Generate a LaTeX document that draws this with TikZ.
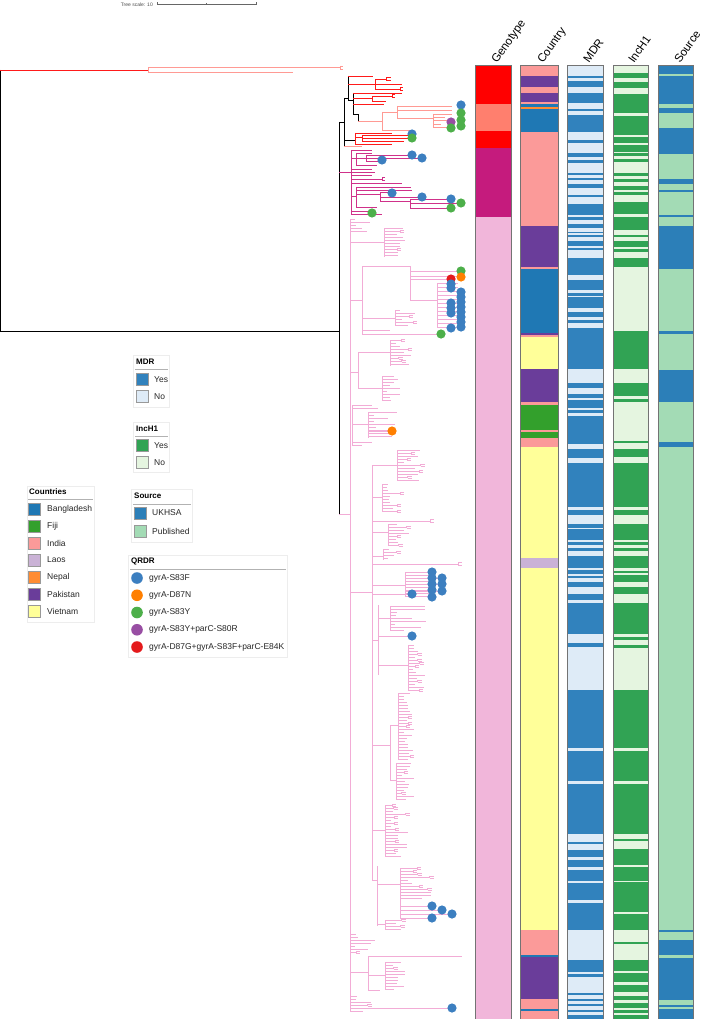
\documentclass[tikz,border=0pt]{standalone}
\usepackage{fontspec}
\setmainfont{Liberation Sans}

\definecolor{treered}{HTML}{FF1A1A}
\definecolor{treesalmon}{HTML}{FF9A94}
\definecolor{treemag}{HTML}{D0318A}
\definecolor{treepink}{HTML}{F2ACD6}
\definecolor{gtred}{HTML}{FF0000}
\definecolor{gtsalmon}{HTML}{FF7F6E}
\definecolor{gtmag}{HTML}{C51B7D}
\definecolor{gtpink}{HTML}{F1B6DA}
\definecolor{cbangla}{HTML}{1F78B4}
\definecolor{cfiji}{HTML}{33A02C}
\definecolor{cindia}{HTML}{FB9A99}
\definecolor{claos}{HTML}{CAB2D6}
\definecolor{cnepal}{HTML}{FF8C33}
\definecolor{cpak}{HTML}{6A3D9A}
\definecolor{cviet}{HTML}{FFFF99}
\definecolor{mdryes}{HTML}{3182BD}
\definecolor{mdrno}{HTML}{DEEBF7}
\definecolor{incyes}{HTML}{31A354}
\definecolor{incno}{HTML}{E5F5E0}
\definecolor{srcuk}{HTML}{2C7FB8}
\definecolor{srcpub}{HTML}{A3DBB5}
\definecolor{qblue}{HTML}{3C7FC0}
\definecolor{qorange}{HTML}{FF7F00}
\definecolor{qgreen}{HTML}{4DAF4A}
\definecolor{qpurple}{HTML}{984EA3}
\definecolor{qred}{HTML}{E41A1C}

\tikzset{
  br/.style={line width=0.6pt},
  blkbr/.style={br, draw=black},
  redbr/.style={br, draw=treered},
  salbr/.style={br, draw=treesalmon},
  magbr/.style={br, draw=treemag},
  pinkbr/.style={br, draw=treepink},
  stripframe/.style={draw=black!55, line width=0.6pt},
  striplabel/.style={font=\fontsize{11.5}{13}\selectfont, rotate=55, anchor=base west, inner sep=0pt},
  legbox/.style={draw=black!7, fill=white, line width=0.5pt},
  legrule/.style={draw=black!30, line width=0.8pt},
  legtitle/.style={font=\bfseries\fontsize{8}{10}\selectfont, anchor=west, inner sep=0pt},
  legtext/.style={font=\fontsize{8.5}{10}\selectfont, anchor=west, inner sep=0pt, text=black!85},
  swatch/.style={draw=black!40, line width=0.4pt, minimum size=12pt, inner sep=0pt}
}

% comb of leaves hanging off one node
\newcommand\comb[5]{%
  \draw[#1] (#2,#3) -- (#2,#4);
  \pgfmathsetmacro\combnext{#3+3}%
  \foreach \yy in {#3,\combnext,...,#4}{%
    \pgfmathsetmacro\xend{#2+5+#5*rnd}%
    \draw[#1] (#2,\yy) -- (\xend,\yy);
    \pgfmathtruncatemacro\haspair{rnd<0.3}%
    \ifnum\haspair=1
      \draw[#1] (\xend,\yy-1) -- (\xend,\yy+1) (\xend,\yy-1) -- ++(4,0) (\xend,\yy+1) -- ++(4,0);
    \fi
  }%
}
\newcommand\cherry[4]{\draw[#1] (#2,#3-1.5) -- (#2,#3+1.5) (#2,#3-1.5) -- ++(#4,0) (#2,#3+1.5) -- ++(#4,0);}
\newcommand\qd[3]{\fill[#1] (#2,#3) circle[radius=4.6pt];}

\begin{document}
\begin{tikzpicture}[x=1pt,y=-1pt]
\pgfmathsetseed{23}
\useasboundingbox (0,0) rectangle (706,1019);

% tree scale
\node[font=\fontsize{5}{6}\selectfont, anchor=east, inner sep=0pt, text=black!70] (scaletxt) at (153,4.5) {Tree scale: 10};
\coordinate (scaleL) at (157,4);
\coordinate (scaleR) at (256,4);
\draw[black!60, line width=0.4pt] (scaleL) -- (scaleR);
\draw[black!60, line width=0.4pt] (157,2.5) -- (157,5.5) (206,3) -- (206,5) (256,2.5) -- (256,5.5);

% root and outgroup
\draw[blkbr] (0,70) -- (0,331);
\draw[redbr] (0,70) -- (148,70);
\draw[salbr] (148,67.5) -- (148,72);
\draw[salbr] (148,67.5) -- (340,67.5);
\draw[salbr] (148,72) -- (293,72);
\cherry{salbr}{340}{67.5}{3}
\draw[blkbr] (0,331) -- (339,331);
\draw[blkbr] (339,122) -- (339,514);

% top red cluster
\draw[blkbr] (339,122) -- (344,122);
\draw[blkbr] (344,98) -- (344,146);
\draw[blkbr] (344,98) -- (348,98);
\draw[blkbr] (348,76) -- (348,100);
\draw[redbr] (348,76) -- (373,76);
\draw[redbr] (348,84) -- (402,84);
\draw[redbr] (375,79) -- (375,89);
\draw[redbr] (375,79) -- (386,79);
\cherry{redbr}{386}{79}{5}
\draw[redbr] (375,89) -- (400,89);
\cherry{redbr}{400}{89}{3}
\draw[blkbr] (348,100) -- (353,100);
\draw[blkbr] (353,93) -- (353,114);
\draw[redbr] (353,93) -- (402,93);
\draw[redbr] (353,98) -- (372,98);
\draw[redbr] (372,96) -- (372,101);
\draw[redbr] (372,96) -- (392,96);
\cherry{redbr}{392}{96}{3}
\draw[redbr] (372,101) -- (386,101);
\draw[redbr] (353,104) -- (384,104);
\draw[blkbr] (353,114) -- (358,114) -- (358,121);

% salmon clade
\draw[salbr] (358,121) -- (382,121);
\draw[salbr] (382,112) -- (382,130);
\draw[salbr] (382,112) -- (397,112);
\draw[salbr] (397,106) -- (397,118);
\draw[salbr] (397,106) -- (452,106);
\draw[salbr] (397,110) -- (452,110);
\draw[salbr] (397,118) -- (433,118);
\draw[salbr] (433,114) -- (433,127);
\foreach \yy/\xx in {114/452,117/445,120/452,124/441,127/450}
  {\draw[salbr] (433,\yy) -- (\xx,\yy);}
\draw[salbr] (382,130) -- (412,130);

% second red group
\draw[blkbr] (344,140) -- (355,140);
\draw[redbr] (355,133) -- (355,144);
\draw[redbr] (355,133) -- (392,133);
\draw[redbr] (355,137) -- (362,137);
\draw[redbr] (362,135) -- (362,141);
\draw[redbr] (362,135) -- (410,135);
\draw[redbr] (362,138) -- (410,138);
\draw[redbr] (362,141) -- (404,141);
\draw[redbr] (355,144) -- (392,144);
\draw[salbr] (344,146) -- (362,146);

% magenta clade
\draw[magbr] (339,172) -- (351,172);
\draw[magbr] (351,150) -- (351,214);
\draw[magbr] (351,150) -- (372,150);
\draw[magbr] (351,158) -- (356,158);
\draw[magbr] (356,153) -- (356,165);
\draw[magbr] (356,153) -- (372,153);
\draw[magbr] (356,158) -- (366,158);
\draw[magbr] (366,155) -- (366,161);
\draw[magbr] (366,155) -- (412,155);
\draw[magbr] (366,158) -- (422,158);
\draw[magbr] (366,161) -- (382,161);
\draw[magbr] (356,165) -- (377,165);
\foreach \yy/\xx in {169/372,172/375,175/372,179/382,183/402}
  {\draw[magbr] (351,\yy) -- (\xx,\yy);}
\cherry{magbr}{382}{179}{3}
\draw[magbr] (351,196) -- (356,196);
\draw[magbr] (356,187) -- (356,207);
\draw[magbr] (356,187) -- (411,187);
\draw[magbr] (356,190) -- (412,190);
\draw[magbr] (356,194) -- (380,194);
\draw[magbr] (380,192) -- (380,201);
\draw[magbr] (380,192) -- (392,192);
\draw[magbr] (380,197) -- (422,197);
\draw[magbr] (380,201) -- (410,201);
\draw[magbr] (410,199) -- (410,208);
\draw[magbr] (410,199) -- (451,199);
\draw[magbr] (410,203) -- (461,203);
\draw[magbr] (410,208) -- (451,208);
\draw[magbr] (356,207) -- (377,207);
\draw[magbr] (351,211) -- (372,211);
\draw[magbr] (351,214) -- (382,214);

% pink clade
\draw[pinkbr] (339,514) -- (350,514);
\draw[pinkbr] (350,219) -- (350,1012);
\comb{pinkbr}{350}{219}{231}{16}
\draw[pinkbr] (350,242) -- (384,242);
\comb{pinkbr}{384}{228}{257}{20}
\draw[pinkbr] (350,300) -- (362,300);
\draw[pinkbr] (362,266) -- (362,334);
\draw[pinkbr] (362,266) -- (410,266);
\draw[pinkbr] (410,266) -- (410,300);
\draw[pinkbr] (410,271) -- (461,271);
\draw[pinkbr] (410,276) -- (461,276);
\draw[pinkbr] (410,279) -- (451,279);
\draw[pinkbr] (410,300) -- (437,300);
\draw[pinkbr] (437,283) -- (437,327);
\foreach \yy in {283,287,...,327}
  {\draw[pinkbr] (437,\yy) -- (458,\yy);}
\draw[pinkbr] (362,318) -- (395,318);
\comb{pinkbr}{395}{310}{326}{18}
\draw[pinkbr] (362,330) -- (390,330);
\draw[pinkbr] (362,334) -- (441,334);
\draw[pinkbr] (350,372) -- (358,372);
\draw[pinkbr] (358,352) -- (358,388);
\draw[pinkbr] (358,352) -- (390,352);
\comb{pinkbr}{390}{340}{366}{16}
\draw[pinkbr] (358,388) -- (382,388);
\comb{pinkbr}{382}{376}{400}{16}
\draw[pinkbr] (352,405) -- (352,445);
\foreach \yy/\xx in {405/372,408/378,442/372,445/362}
  {\draw[pinkbr] (352,\yy) -- (\xx,\yy);}
\draw[pinkbr] (352,424) -- (368,424);
\comb{pinkbr}{368}{412}{438}{26}
\draw[pinkbr] (368,431) -- (392,431);
\draw[pinkbr] (350,592) -- (372,592);
\draw[pinkbr] (372,465) -- (372,880);
\draw[pinkbr] (372,465) -- (397,465);
\comb{pinkbr}{397}{450}{480}{20}
\draw[pinkbr] (372,497) -- (382,497);
\comb{pinkbr}{382}{484}{512}{16}
\draw[pinkbr] (372,521) -- (430,521);
\cherry{pinkbr}{430}{521}{4}
\draw[pinkbr] (372,532) -- (388,532);
\comb{pinkbr}{388}{524}{546}{18}
\draw[pinkbr] (372,556) -- (383,556);
\comb{pinkbr}{383}{549}{560}{16}
\draw[pinkbr] (372,564) -- (458,564);
\cherry{pinkbr}{458}{564}{4}
\draw[pinkbr] (372,585) -- (405,585);
\draw[pinkbr] (405,572) -- (405,597);
\foreach \yy in {572,575,...,597}
  {\draw[pinkbr] (405,\yy) -- (432,\yy);}
\foreach \yy in {578,584,591}
  {\draw[pinkbr] (405,\yy) -- (442,\yy);}
\draw[pinkbr] (372,594) -- (412,594);
\draw[pinkbr] (372,640) -- (378,640);
\draw[pinkbr] (378,605) -- (378,675);
\draw[pinkbr] (378,618) -- (390,618);
\comb{pinkbr}{390}{606}{630}{32}
\draw[pinkbr] (378,636) -- (412,636);
\draw[pinkbr] (378,665) -- (408,665);
\comb{pinkbr}{408}{645}{690}{12}
\draw[pinkbr] (372,745) -- (390,745);
\draw[pinkbr] (390,725) -- (390,780);
\draw[pinkbr] (390,725) -- (398,725);
\comb{pinkbr}{398}{693}{760}{12}
\draw[pinkbr] (390,780) -- (396,780);
\comb{pinkbr}{396}{763}{800}{14}
\draw[pinkbr] (372,830) -- (385,830);
\comb{pinkbr}{385}{805}{856}{18}
\draw[pinkbr] (372,880) -- (377,880);
\draw[pinkbr] (377,866) -- (377,926);
\draw[pinkbr] (377,884) -- (400,884);
\draw[pinkbr] (400,900) -- (400,918);
\comb{pinkbr}{400}{868}{900}{28}
\foreach \yy/\xx in {906/432,910/442,914/452,918/432}
  {\draw[pinkbr] (400,\yy) -- (\xx,\yy);}
\draw[pinkbr] (377,924) -- (385,924);
\comb{pinkbr}{385}{920}{930}{12}
\comb{pinkbr}{350}{934}{952}{26}
\draw[pinkbr] (350,972) -- (368,972);
\draw[pinkbr] (368,956) -- (368,990);
\draw[pinkbr] (368,956) -- (462,956);
\draw[pinkbr] (368,975) -- (385,975);
\comb{pinkbr}{385}{962}{990}{20}
\draw[pinkbr] (368,990) -- (380,990);
\comb{pinkbr}{350}{996}{1012}{24}
\draw[pinkbr] (350,1008) -- (452,1008);

% QRDR dots on tips
\qd{qblue}{461}{105}
\qd{qgreen}{461}{113} \qd{qgreen}{461}{120} \qd{qgreen}{461}{126}
\qd{qpurple}{451}{122} \qd{qgreen}{451}{128}
\qd{qblue}{412}{134} \qd{qgreen}{412}{138}
\qd{qblue}{382}{160} \qd{qblue}{412}{155} \qd{qblue}{422}{158}
\qd{qblue}{392}{193} \qd{qblue}{422}{197} \qd{qblue}{451}{199}
\qd{qgreen}{461}{203} \qd{qgreen}{451}{208} \qd{qgreen}{372}{213}
\qd{qgreen}{461}{271} \qd{qorange}{461}{277} \qd{qred}{451}{279}
\foreach \yy in {284,288} {\qd{qblue}{451}{\yy}}
\foreach \yy in {292,297,...,327} {\qd{qblue}{461}{\yy}}
\foreach \yy in {303,308,313,328} {\qd{qblue}{451}{\yy}}
\qd{qgreen}{441}{334}
\qd{qorange}{392}{431}
\foreach \yy in {572,578,584,590,597} {\qd{qblue}{432}{\yy}}
\foreach \yy in {578,584,591} {\qd{qblue}{442}{\yy}}
\qd{qblue}{412}{594}
\qd{qblue}{412}{636}
\qd{qblue}{432}{906} \qd{qblue}{442}{910} \qd{qblue}{452}{914} \qd{qblue}{432}{918}
\qd{qblue}{452}{1008}

% strip: genotype
\foreach \ya/\yb/\cc in {65/104/gtred,104/131/gtsalmon,131/148/gtred,148/217/gtmag,217/1019/gtpink}
  {\fill[\cc] (475,\ya) rectangle (511,\yb);}
\draw[stripframe] (475,1019) -- (475,65) -- (511,65) -- (511,1019);
\node[striplabel] (gtlab) at (497,64) {Genotype};

% strip: country
\foreach \ya/\yb/\cc in {65/76/cindia,76/87/cpak,87/93/cindia,93/102/cpak,102/104/cindia,104/107/cbangla,107/109/cnepal,109/132/cbangla,132/226/cindia,226/267/cpak,267/269/cindia,269/333/cbangla,333/335/cpak,335/337/cindia,337/369/cviet,369/402/cpak,402/405/cindia,405/430/cfiji,430/432/cindia,432/438/cfiji,438/447/cindia,447/558/cviet,558/568/claos,568/930/cviet,930/955/cindia,955/957/cbangla,957/999/cpak,999/1009/cindia,1009/1010.5/cbangla,1010.5/1019/cindia}
  {\fill[\cc] (520,\ya) rectangle (558,\yb);}
\draw[stripframe] (520,1019) -- (520,65) -- (558,65) -- (558,1019);
\node[striplabel] (ctlab) at (543,64) {Country};

% strip: MDR
\fill[mdrno] (567,65) rectangle (603,1019);
\foreach \ya/\yb in {76/78,81/87,93/103,109/111,115/132,140/143,153/157,160/163,173/175,178/180,184/188,195/197,204/215,217/220,224/228,232/233,235/237,241/246,248/250,258/275,280/290,293/296,297/308,312/317,320/323,328/369,383/388,394/398,400/408,410/413,416/444,449/458,463/507,510/515,524/528,529/540,542/545,548/551,556/568,570/574,576/578,582/587,594/600,603/634,643/647,690/748,751/781,784/834,842/844,850/857,860/867,870/881,883/900,903/930,960/972,974/977,993/995,999/1001,1004/1006,1010/1012,1015/1019}
  {\fill[mdryes] (567,\ya) rectangle (603,\yb);}
\draw[stripframe] (567,1019) -- (567,65) -- (603,65) -- (603,1019);
\node[striplabel] (mdrlab) at (589,64) {MDR};

% strip: IncH1
\fill[incno] (613,65) rectangle (648,1019);
\foreach \ya/\yb in {73/78,82/88,94/113,116/135,137/143,145/152,153/156,159/162,173/176,179/182,186/190,192/195,202/214,217/230,235/237,241/247,249/252,258/267,331/369,383/396,399/402,441/443,449/457,463/507,510/515,524/540,542/545,548/551,556/568,571/573,575/582,587/594,603/634,637/640,645/648,690/748,751/781,784/834,839/841,849/865,867/881,882/912,914/930,942/944,960/971,973/982,985/992,996/1000,1003/1008,1010/1013,1015/1019}
  {\fill[incyes] (613,\ya) rectangle (648,\yb);}
\draw[stripframe] (613,1019) -- (613,65) -- (648,65) -- (648,1019);
\node[striplabel] (inclab) at (634,64) {IncH1};

% strip: source
\fill[srcuk] (658,65) rectangle (693,1019);
\foreach \ya/\yb in {74/76,104/108,113/128,154/179,184/190,192/215,217/226,269/331,334/370,402/442,447/930,932/940,955/958,1000/1005,1007/1009}
  {\fill[srcpub] (658,\ya) rectangle (693,\yb);}
\draw[stripframe] (658,1019) -- (658,65) -- (693,65) -- (693,1019);
\node[striplabel] (srclab) at (680,64) {Source};

% legend: MDR
\draw[legbox] (133,355) rectangle (169,407);
\node[legtitle] (mdrT) at (136,362) {MDR};
\draw[legrule] (135,369) -- (168,369);
\node[swatch, fill=mdryes] (mdrY) at (142,379.5) {};
\node[legtext] (mdrYt) at (154,379.5) {Yes};
\node[swatch, fill=mdrno] (mdrN) at (142,396.5) {};
\node[legtext] (mdrNt) at (154,396.5) {No};

% legend: IncH1
\draw[legbox] (133,422) rectangle (169,472);
\node[legtitle] (incT) at (136,428.5) {IncH1};
\draw[legrule] (135,436) -- (168,436);
\node[swatch, fill=incyes] (incY) at (142,445.5) {};
\node[legtext] (incYt) at (154,445.5) {Yes};
\node[swatch, fill=incno] (incN) at (142,462.5) {};
\node[legtext] (incNt) at (154,462.5) {No};

% legend: countries
\draw[legbox] (27,486) rectangle (94,622);
\node[legtitle] (cntT) at (29,492) {Countries};
\draw[legrule] (28,499) -- (93,499);
\foreach \cc/\cname [count=\i from 0] in {cbangla/Bangladesh,cfiji/Fiji,cindia/India,claos/Laos,cnepal/Nepal,cpak/Pakistan,cviet/Vietnam}{
  \node[swatch, fill=\cc] (cnt\i) at (34.5,509+17*\i) {};
  \node[legtext] (cntt\i) at (47,509+17*\i) {\cname};
}

% legend: source
\draw[legbox] (131,489) rectangle (192,542);
\node[legtitle] (srcT) at (134,496) {Source};
\draw[legrule] (133,504) -- (191,504);
\node[swatch, fill=srcuk] (srcU) at (140,513) {};
\node[legtext] (srcUt) at (152,513) {UKHSA};
\node[swatch, fill=srcpub] (srcP) at (140,531) {};
\node[legtext] (srcPt) at (152,531) {Published};

% legend: QRDR
\draw[legbox] (128,555) rectangle (287,657);
\node[legtitle] (qT) at (131,561) {QRDR};
\draw[legrule] (130,569) -- (286,569);
\foreach \cc/\qname [count=\i from 0] in {qblue/gyrA-S83F,qorange/gyrA-D87N,qgreen/gyrA-S83Y,qpurple/gyrA-S83Y+parC-S80R,qred/gyrA-D87G+gyrA-S83F+parC-E84K}{
  \fill[\cc] (137,578+17.25*\i) circle[radius=5.8pt];
  \node[legtext] (qt\i) at (149,578+17.25*\i) {\qname};
}
\end{tikzpicture}
\end{document}
